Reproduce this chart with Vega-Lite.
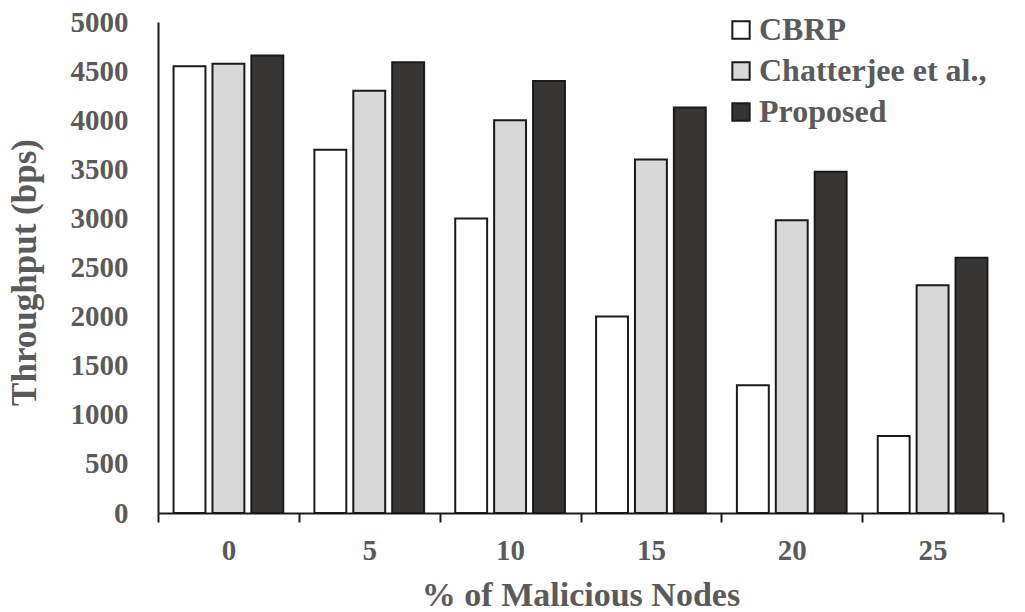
{
  "$schema": "https://vega.github.io/schema/vega-lite/v6.json",
  "autosize": {"type": "none"},
  "width": 845,
  "height": 491,
  "padding": {"left": 158, "top": 22, "right": 22, "bottom": 99},
  "background": "white",
  "config": {
    "view": {"stroke": null},
    "font": "Liberation Serif"
  },
  "data": {
    "values": [
      {"nodes": 0, "method": "CBRP", "throughput": 4550},
      {"nodes": 0, "method": "Chatterjee et al.,", "throughput": 4575},
      {"nodes": 0, "method": "Proposed", "throughput": 4660},
      {"nodes": 5, "method": "CBRP", "throughput": 3700},
      {"nodes": 5, "method": "Chatterjee et al.,", "throughput": 4300},
      {"nodes": 5, "method": "Proposed", "throughput": 4590},
      {"nodes": 10, "method": "CBRP", "throughput": 3000},
      {"nodes": 10, "method": "Chatterjee et al.,", "throughput": 4000},
      {"nodes": 10, "method": "Proposed", "throughput": 4400},
      {"nodes": 15, "method": "CBRP", "throughput": 2000},
      {"nodes": 15, "method": "Chatterjee et al.,", "throughput": 3600},
      {"nodes": 15, "method": "Proposed", "throughput": 4130},
      {"nodes": 20, "method": "CBRP", "throughput": 1300},
      {"nodes": 20, "method": "Chatterjee et al.,", "throughput": 2980},
      {"nodes": 20, "method": "Proposed", "throughput": 3475},
      {"nodes": 25, "method": "CBRP", "throughput": 785},
      {"nodes": 25, "method": "Chatterjee et al.,", "throughput": 2320},
      {"nodes": 25, "method": "Proposed", "throughput": 2600}
    ]
  },
  "mark": {"type": "bar", "stroke": "#1a1a1a", "strokeWidth": 2},
  "encoding": {
    "x": {
      "field": "nodes",
      "type": "ordinal",
      "scale": {"paddingInner": 0, "paddingOuter": 0},
      "axis": {
        "title": "% of Malicious Nodes",
        "titleFont": "Liberation Serif",
        "titleFontSize": 34,
        "titleFontWeight": "bold",
        "titleColor": "#5a5a5a",
        "titleBaseline": "alphabetic",
        "titleY": 92,
        "labelAngle": 0,
        "labelFont": "Liberation Serif",
        "labelFontSize": 29,
        "labelFontWeight": "bold",
        "labelColor": "#5a5a5a",
        "labelPadding": 14,
        "tickBand": "extent",
        "tickSize": 9,
        "tickWidth": 2,
        "tickColor": "#1a1a1a",
        "domainColor": "#1a1a1a",
        "domainWidth": 2,
        "grid": false
      }
    },
    "xOffset": {
      "field": "method",
      "type": "nominal",
      "sort": ["CBRP", "Chatterjee et al.,", "Proposed"],
      "scale": {"paddingInner": 0.18, "paddingOuter": 0.4}
    },
    "y": {
      "field": "throughput",
      "type": "quantitative",
      "scale": {"domain": [0, 5000], "nice": false},
      "axis": {
        "title": "Throughput (bps)",
        "format": "d",
        "titleFont": "Liberation Serif",
        "titleFontSize": 35,
        "titleFontWeight": "bold",
        "titleColor": "#5a5a5a",
        "titleBaseline": "alphabetic",
        "titleAngle": -90,
        "titleAlign": "center",
        "titleX": -123,
        "titleY": 250,
        "values": [0, 500, 1000, 1500, 2000, 2500, 3000, 3500, 4000, 4500, 5000],
        "labelFont": "Liberation Serif",
        "labelFontSize": 29,
        "labelFontWeight": "bold",
        "labelColor": "#5a5a5a",
        "labelPadding": 30,
        "ticks": false,
        "domainColor": "#1a1a1a",
        "domainWidth": 2,
        "grid": false
      }
    },
    "color": {
      "field": "method",
      "type": "nominal",
      "scale": {
        "domain": ["CBRP", "Chatterjee et al.,", "Proposed"],
        "range": ["#ffffff", "#d8d8d8", "#383634"]
      },
      "legend": {
        "title": null,
        "orient": "none",
        "legendX": 567,
        "legendY": -8,
        "padding": 0,
        "symbolType": "square",
        "symbolSize": 300,
        "symbolStrokeColor": "#1a1a1a",
        "symbolStrokeWidth": 2,
        "symbolOpacity": 1,
        "labelFont": "Liberation Serif",
        "labelFontSize": 32,
        "labelFontWeight": "bold",
        "labelColor": "#5a5a5a",
        "labelOffset": 2,
        "labelLimit": 400,
        "rowPadding": 9
      }
    }
  }
}
